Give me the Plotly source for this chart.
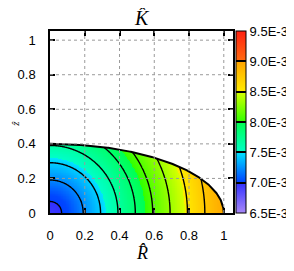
import numpy as np
import plotly.graph_objects as go

# ---- data ----
radius = [0.0, 0.1, 0.2, 0.3, 0.4, 0.5, 0.6, 0.7, 0.8, 0.9, 1.0]
k_profile = [6.96, 7.02, 7.24, 7.46, 7.68, 7.90, 8.12, 8.34, 8.56, 8.78, 8.98]  # x 1E-3
contour_levels = [7.00, 7.22, 7.44, 7.66, 7.88, 8.10, 8.32, 8.54, 8.76]  # x 1E-3
semi_axis_R = 1.0
semi_axis_z = 0.4
axis_ticks = [0, 0.2, 0.4, 0.6, 0.8, 1]
axis_ticklabels = ["0", "0.2", "0.4", "0.6", "0.8", "1"]
cbar_ticks = [6.5, 7.0, 7.5, 8.0, 8.5, 9.0, 9.5]
cbar_ticklabels = ["6.5E-3", "7.0E-3", "7.5E-3", "8.0E-3", "8.5E-3", "9.0E-3", "9.5E-3"]
cmin, cmax = 6.5, 9.5
axis_max = 1.053

colorscale = [
    [0.0, '#a888f8'],
    [0.1666, '#3030ff'],
    [0.1667, '#0040ff'],
    [0.3333, '#00e4ff'],
    [0.3334, '#00ffc8'],
    [0.5, '#00ff50'],
    [0.5001, '#30ff00'],
    [0.6666, '#d8ff00'],
    [0.6667, '#ffec00'],
    [0.8333, '#ffa400'],
    [0.8334, '#ff6c10'],
    [1.0, '#ff2010'],
]

# ---- field built from the radial profile ----
Rg = np.linspace(0, semi_axis_R, 241)
Zg = np.linspace(0, 0.42, 101)
RR, ZZ = np.meshgrid(Rg, Zg)
rr = np.sqrt(RR**2 + ZZ**2)
K = np.interp(rr, radius, k_profile)
inside = (RR / semi_axis_R) ** 2 + (ZZ / semi_axis_z) ** 2 <= 1.0
Kmask = np.where(inside, K, np.nan)

theta = np.linspace(0, np.pi / 2, 300)
edge_R = semi_axis_R * np.sin(theta)
edge_z = semi_axis_z * np.cos(theta)

fig = go.Figure()
fig.add_trace(go.Heatmap(
    x=Rg, y=Zg, z=Kmask, zmin=cmin, zmax=cmax, colorscale=colorscale,
    hoverinfo='skip',
    colorbar=dict(
        x=1.016, xanchor='left', xref='paper', y=0, yanchor='bottom', len=1,
        lenmode='fraction', thickness=10, thicknessmode='pixels', xpad=0, ypad=0,
        outlinewidth=1, outlinecolor='black',
        tickvals=cbar_ticks, ticktext=cbar_ticklabels, ticks='inside', ticklen=10,
        tickcolor='black', tickwidth=1.5,
        tickfont=dict(size=13, family='Liberation Sans', color='black'),
    ),
))
fig.add_trace(go.Contour(
    x=Rg, y=Zg, z=K, showscale=False, hoverinfo='skip',
    contours=dict(coloring='none', start=contour_levels[0], end=contour_levels[-1],
                  size=contour_levels[1] - contour_levels[0]),
    line=dict(color='black', width=1.4),
))
# white mask outside the domain
mask_x = np.concatenate([edge_R, [axis_max, axis_max, 0]])
mask_y = np.concatenate([edge_z, [0, axis_max, axis_max]])
fig.add_trace(go.Scatter(x=mask_x, y=mask_y, fill='toself', fillcolor='white',
                         line=dict(width=0), mode='lines', hoverinfo='skip', showlegend=False))
fig.add_trace(go.Scatter(x=edge_R, y=edge_z, mode='lines', line=dict(color='black', width=2),
                         hoverinfo='skip', showlegend=False))

# dotted grid above the data
for t in axis_ticks[1:]:
    fig.add_shape(type='line', xref='x', yref='y domain', x0=t, x1=t, y0=0, y1=1,
                  line=dict(color='#9a9a9a', width=1, dash='dot'), layer='above')
    fig.add_shape(type='line', xref='x domain', yref='y', x0=0, x1=1, y0=t, y1=t,
                  line=dict(color='#9a9a9a', width=1, dash='dot'), layer='above')

axis_common = dict(
    range=[0, axis_max], tickvals=axis_ticks, ticktext=axis_ticklabels,
    showgrid=False, zeroline=False, showline=True, linecolor='black', linewidth=1.5,
    mirror='ticks', ticks='inside', ticklen=5, tickwidth=1.5, tickcolor='black',
    tickfont=dict(size=13, family='Liberation Sans', color='black'), layer='above traces',
    automargin=False,
)
fig.update_xaxes(ticklabelstandoff=10, **axis_common)
fig.update_yaxes(ticklabelstandoff=10, **axis_common)

fig.add_annotation(text='<i>K̂</i>', xref='paper', yref='paper', x=0.5, y=1, yanchor='bottom',
                   yshift=0, showarrow=False, font=dict(size=20, family='Liberation Serif', color='black'))
fig.add_annotation(text='<i>R̂</i>', xref='paper', yref='paper', x=0.5, y=0, yanchor='top',
                   yshift=-28, showarrow=False, font=dict(size=18, family='Liberation Serif', color='black'))
fig.add_annotation(text='<i>ẑ</i>', xref='paper', yref='paper', x=0, y=0.49, xanchor='center',
                   xshift=-35, textangle=-90, showarrow=False,
                   font=dict(size=11, family='Liberation Serif', color='black'))

fig.update_layout(
    width=294, height=271, margin=dict(l=42, r=69, t=23, b=66, autoexpand=False),
    paper_bgcolor='white', plot_bgcolor='white', showlegend=False,
)
fig.write_html("out.html")
